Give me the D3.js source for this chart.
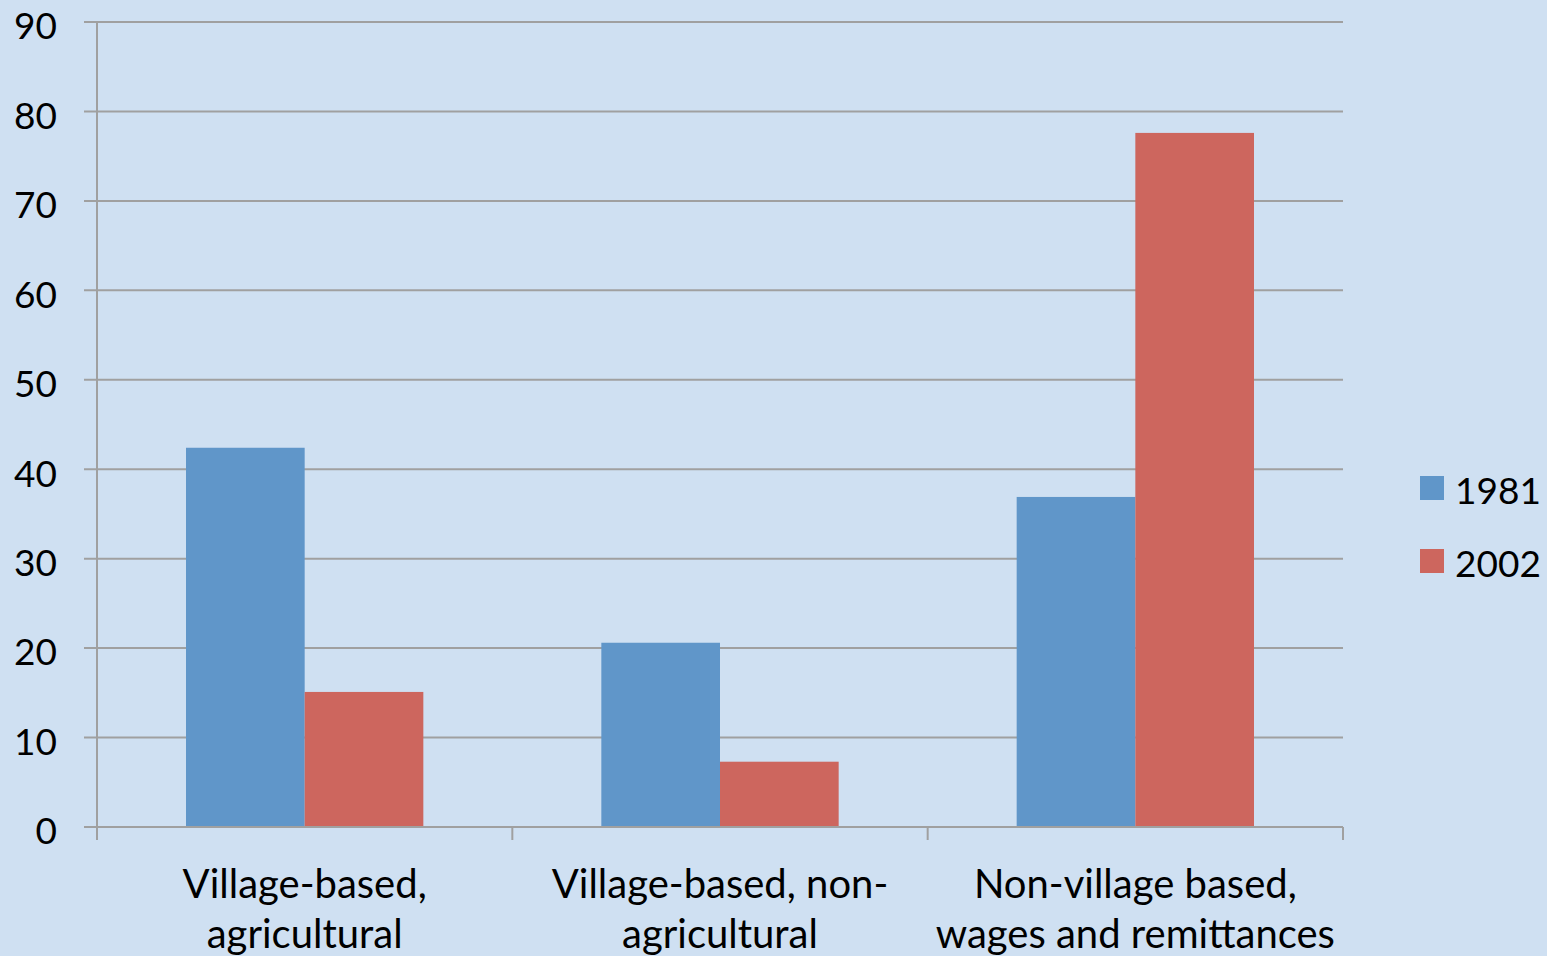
<!DOCTYPE html>
<html>
<head>
<meta charset="utf-8">
<script src="https://cdn.jsdelivr.net/npm/d3@7"></script>
<style>
  html, body { margin: 0; padding: 0; background: #cfe0f2; }
  svg { display: block; font-family: "Lato", "Open Sans", sans-serif; }
</style>
</head>
<body>
<svg id="chart" width="1547" height="956"></svg>
<script>
// Household income sources, share (%) by year
const categories = [
  ["Village-based,", "agricultural"],
  ["Village-based, non-", "agricultural"],
  ["Non-village based,", "wages and remittances"]
];
const seriesNames = ["1981", "2002"];
const values1981 = [42.4, 20.6, 36.9];
const values2002 = [15.1, 7.3, 77.6];
const yTicks = [0, 10, 20, 30, 40, 50, 60, 70, 80, 90];
const colors = ["#6096c9", "#cd665e"];

const svg = d3.select("#chart");
const W = 1547, H = 956;
const plotLeft = 97, plotRight = 1343, plotTop = 22, plotBottom = 827;

svg.append("rect").attr("width", W).attr("height", H).attr("fill", "#cfe0f2");

const x = d3.scaleBand()
  .domain(d3.range(categories.length))
  .range([plotLeft, plotRight])
  .paddingInner(0).paddingOuter(0);

const xInner = d3.scaleBand()
  .domain(seriesNames)
  .range([0, x.bandwidth()])
  .paddingOuter(0.75)
  .paddingInner(0);

const y = d3.scaleLinear().domain([0, 90]).range([plotBottom, plotTop]);

// gridlines with short outer ticks
const gridColor = "#a0a0a0";
svg.append("g")
  .selectAll("line")
  .data(yTicks)
  .join("line")
  .attr("x1", plotLeft - 13).attr("x2", plotRight)
  .attr("y1", d => y(d)).attr("y2", d => y(d))
  .attr("stroke", gridColor).attr("stroke-width", 2);

// y tick labels
svg.append("g")
  .selectAll("text")
  .data(yTicks)
  .join("text")
  .attr("x", 57).attr("y", d => y(d) + 4)
  .attr("dy", "0.36em")
  .attr("text-anchor", "end")
  .attr("font-size", 37)
  .attr("fill", "#000")
  .text(d => d);

// bars
const series = [values1981, values2002];
series.forEach((vals, si) => {
  svg.append("g")
    .selectAll("rect")
    .data(vals)
    .join("rect")
    .attr("x", (d, i) => x(i) + xInner(seriesNames[si]))
    .attr("width", xInner.bandwidth())
    .attr("y", d => y(d))
    .attr("height", d => y(0) - y(d))
    .attr("fill", colors[si]);
});

// axis lines
svg.append("line")
  .attr("x1", plotLeft).attr("x2", plotLeft)
  .attr("y1", plotTop).attr("y2", plotBottom + 13)
  .attr("stroke", gridColor).attr("stroke-width", 2);
svg.append("line")
  .attr("x1", plotLeft).attr("x2", plotRight)
  .attr("y1", plotBottom).attr("y2", plotBottom)
  .attr("stroke", gridColor).attr("stroke-width", 2);

// category boundary ticks
const boundaries = d3.range(categories.length + 1).map(i => plotLeft + i * x.bandwidth());
svg.append("g")
  .selectAll("line")
  .data(boundaries)
  .join("line")
  .attr("x1", d => d).attr("x2", d => d)
  .attr("y1", plotBottom).attr("y2", plotBottom + 13)
  .attr("stroke", gridColor).attr("stroke-width", 2);

// category labels
const labelG = svg.append("g");
categories.forEach((lines, i) => {
  const cx = x(i) + x.bandwidth() / 2;
  const t = labelG.append("text")
    .attr("x", cx)
    .attr("y", 898)
    .attr("text-anchor", "middle")
    .attr("font-size", 40)
    .attr("fill", "#000");
  lines.forEach((ln, j) => {
    t.append("tspan")
      .attr("x", cx)
      .attr("dy", j === 0 ? 0 : 50)
      .text(ln);
  });
});

// legend
const legend = svg.append("g");
seriesNames.forEach((name, i) => {
  const yy = 476 + i * 73;
  legend.append("rect")
    .attr("x", 1420).attr("y", yy)
    .attr("width", 24).attr("height", 24)
    .attr("fill", colors[i]);
  legend.append("text")
    .attr("x", 1455).attr("y", yy + 15)
    .attr("dy", "0.36em")
    .attr("font-size", 37)
    .attr("fill", "#000")
    .text(name);
});
</script>
</body>
</html>
